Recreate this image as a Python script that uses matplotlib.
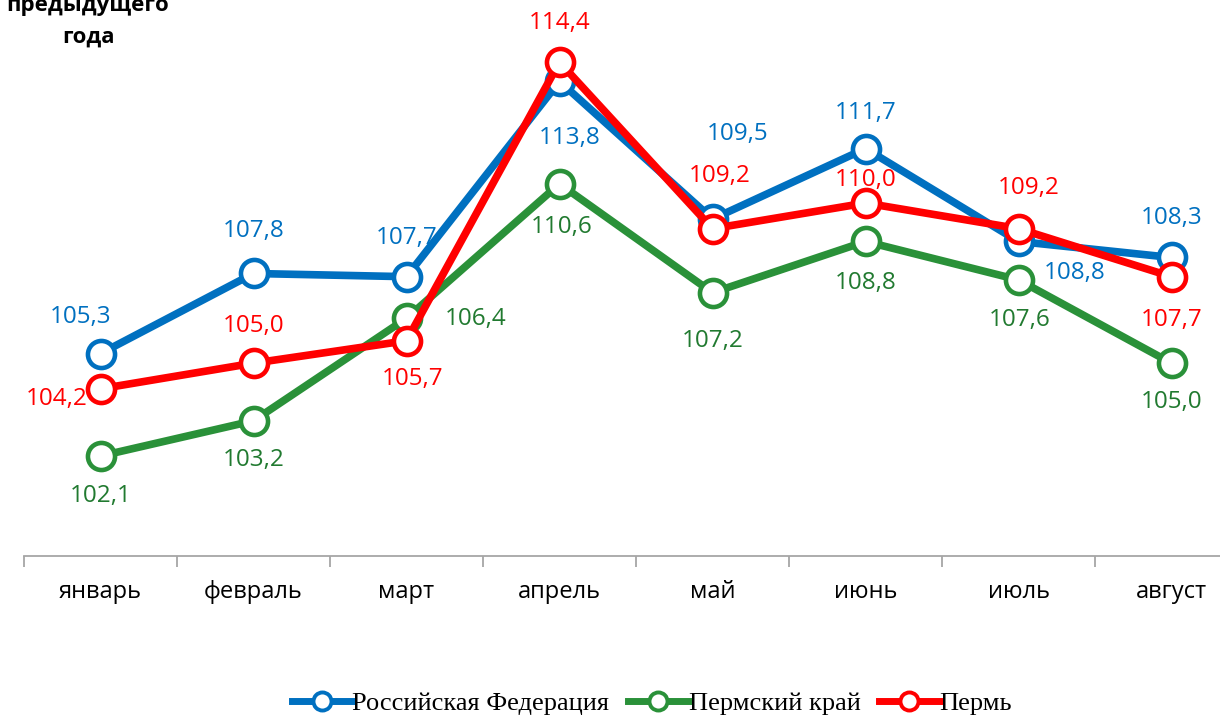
import matplotlib.pyplot as plt
from matplotlib.lines import Line2D

months = ['январь', 'февраль', 'март', 'апрель', 'май', 'июнь', 'июль', 'август']
rf = [105.3, 107.8, 107.7, 113.8, 109.5, 111.7, 108.8, 108.3]
krai = [102.1, 103.2, 106.4, 110.6, 107.2, 108.8, 107.6, 105.0]
perm = [104.2, 105.0, 105.7, 114.4, 109.2, 110.0, 109.2, 107.7]

# label offsets in pixels (dx, dy), dy positive = up
rf_off = [(-20, 37), (0, 42), (0, 39), (10, -57), (25, 85), (0, 36), (56, -32), (0, 39)]
krai_off = [(0, -40), (0, -39), (69, -1), (2, -43), (0, -48), (0, -42), (1, -40), (0, -39)]
perm_off = [(-44, -10), (0, 37), (6, -38), (0, 39), (7, 53), (0, 23), (10, 41), (0, -43)]

blue = '#0070C0'
green = '#2A9139'
green_txt = '#217A30'
red = '#FF0000'

fig = plt.figure(figsize=(12.2, 7.19), dpi=100)
ax = fig.add_axes([24 / 1220, 163 / 719, 1224 / 1220, 556 / 719])

x = list(range(len(months)))
series = [
    ('Российская Федерация', rf, blue, blue, rf_off),
    ('Пермский край', krai, green, green_txt, krai_off),
    ('Пермь', perm, red, red, perm_off),
]

handles = []
for name, vals, col, tcol, offs in series:
    ax.plot(x, vals, color=col, lw=5.5, marker='o', markersize=19.5,
            markerfacecolor='white', markeredgecolor=col, markeredgewidth=3.3,
            solid_joinstyle='round', zorder=3)
    for xi, v, (dx, dy) in zip(x, vals, offs):
        ax.annotate(f'{v:.1f}'.replace('.', ','), (xi, v), xytext=(dx, dy),
                    textcoords='offset pixels', ha='center', va='center',
                    color=tcol, fontsize=17.5, family='Open Sans', zorder=5)
    handles.append(Line2D([], [], color=col, lw=5, marker='o', markersize=13,
                          markerfacecolor='white', markeredgecolor=col,
                          markeredgewidth=2.8, label=name))

ax.set_xlim(-0.5, 7.5)
ax.set_ylim(98.978, 116.34)
ax.set_yticks([])
for s in ['top', 'right', 'left']:
    ax.spines[s].set_visible(False)
ax.spines['bottom'].set_color('#A6A6A6')
ax.spines['bottom'].set_linewidth(1.3)

ax.set_xticks(x)
ax.set_xticklabels(months, fontsize=17, family='Open Sans')
ax.tick_params(axis='x', which='major', length=0, pad=17)
ax.set_xticks([i + 0.5 for i in range(-1, 8)], minor=True)
ax.tick_params(axis='x', which='minor', length=8, width=1.3, color='#A6A6A6')

fig.text(88 / 1220, 1 - 5 / 719, 'предыдущего', ha='center', va='center',
         fontsize=16, fontweight='bold', family='Open Sans')
fig.text(88 / 1220, 1 - 37 / 719, 'года', ha='center', va='center',
         fontsize=16, fontweight='bold', family='Open Sans')

fig.legend(handles=handles, loc='center', bbox_to_anchor=(652 / 1220, 1 - 703 / 719),
           ncol=3, frameon=False, handlelength=2.3, handletextpad=0.0,
           columnspacing=0.7, prop={'family': 'Liberation Serif', 'size': 19})

fig.savefig('out.png', dpi=100)
